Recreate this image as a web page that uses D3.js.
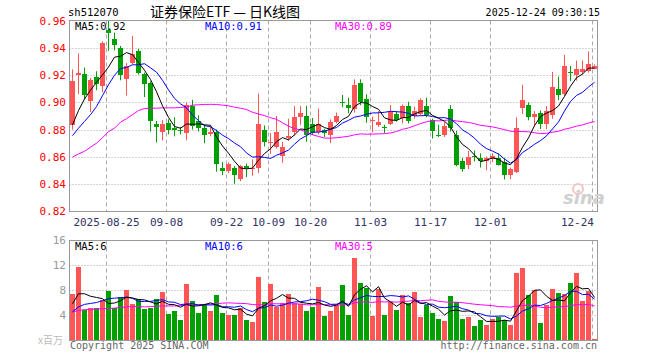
<!DOCTYPE html>
<html><head><meta charset="utf-8">
<script src="https://cdn.jsdelivr.net/npm/d3@7/dist/d3.min.js"></script>
<style>
body{margin:0;background:#fff}
svg{display:block}
text{font-family:"DejaVu Sans Mono",monospace}
</style>
</head><body>
<svg id="c" width="660" height="360"></svg>
<script>
// ---------- data ----------
const dates = ["08-15","08-18","08-19","08-20","08-21","08-22",
"08-25","08-26","08-27","08-28","08-29",
"09-01","09-02","09-03","09-04","09-05",
"09-08","09-09","09-10","09-11","09-12",
"09-15","09-16","09-17","09-18","09-19",
"09-22","09-23","09-24","09-25","09-26",
"09-29","09-30","10-09","10-10",
"10-13","10-14","10-15","10-16","10-17",
"10-20","10-21","10-22","10-23","10-24",
"10-27","10-28","10-29","10-30","10-31",
"11-03","11-04","11-05","11-06","11-07",
"11-10","11-11","11-12","11-13","11-14",
"11-17","11-18","11-19","11-20","11-21",
"11-24","11-25","11-26","11-27","11-28",
"12-01","12-02","12-03","12-04","12-05",
"12-08","12-09","12-10","12-11","12-12",
"12-15","12-16","12-17","12-18","12-19",
"12-22","12-23","12-24"];

const open = [0.8836,0.9205,0.921,0.901,0.9187,0.912,0.9535,0.947,0.940,0.917,
0.929,0.938,0.921,0.914,0.8838,0.878,0.8845,0.881,0.8800,0.8775,
0.8975,0.886,0.8815,0.8765,0.878,0.852,0.8495,0.852,0.8435,0.8528,
0.851,0.8515,0.880,0.870,0.867,0.8605,0.8735,0.878,0.8895,0.890,
0.8838,0.878,0.8797,0.876,0.8853,0.9005,0.898,0.8955,0.914,0.9025,
0.8863,0.8836,0.8816,0.8842,0.8917,0.8885,0.8975,0.890,0.8917,0.8973,
0.887,0.8762,0.8758,0.8955,0.876,0.8565,0.8537,0.8602,0.859,0.8572,
0.8583,0.8593,0.8564,0.8465,0.849,0.8956,0.898,0.889,0.8925,0.8843,
0.891,0.9102,0.906,0.9222,0.920,0.9224,0.9228,0.925];
const high = [0.9244,0.936,0.9257,0.918,0.923,0.945,0.962,0.9514,0.9416,0.929,
0.949,0.9395,0.922,0.9155,0.8863,0.887,0.8875,0.889,0.882,0.900,
0.902,0.8905,0.8835,0.882,0.880,0.856,0.8558,0.853,0.854,0.855,
0.858,0.9065,0.883,0.8775,0.890,0.871,0.888,0.8975,0.8975,0.8975,
0.8885,0.8955,0.8805,0.8875,0.8925,0.9055,0.9035,0.917,0.917,0.906,
0.8895,0.8935,0.8835,0.898,0.8935,0.8985,0.9005,0.897,0.903,0.9035,
0.888,0.8835,0.8855,0.898,0.879,0.859,0.8642,0.8645,0.8625,0.8602,
0.8625,0.8625,0.859,0.852,0.889,0.913,0.900,0.8935,0.894,0.8973,
0.9225,0.919,0.935,0.9268,0.9308,0.9308,0.9375,0.928];
const low = [0.880,0.906,0.9023,0.893,0.909,0.9075,0.938,0.9384,0.9163,0.905,
0.928,0.9205,0.904,0.8785,0.8705,0.872,0.8765,0.875,0.8765,0.872,
0.880,0.8785,0.870,0.875,0.849,0.8465,0.848,0.840,0.842,0.845,
0.846,0.848,0.8675,0.862,0.866,0.8555,0.872,0.8755,0.8835,0.871,
0.876,0.8765,0.8745,0.870,0.8845,0.8965,0.892,0.8925,0.898,0.885,
0.878,0.882,0.8775,0.8833,0.8858,0.8845,0.8845,0.888,0.8905,0.889,
0.8735,0.8745,0.8745,0.8785,0.853,0.849,0.8508,0.8565,0.852,0.850,
0.856,0.8535,0.8432,0.8435,0.848,0.8915,0.8868,0.8825,0.8805,0.8803,
0.888,0.9017,0.9045,0.9158,0.916,0.9205,0.922,0.9245];
const close = [0.916,0.922,0.9055,0.9165,0.9138,0.9435,0.951,0.942,0.920,0.927,
0.936,0.922,0.9135,0.886,0.882,0.884,0.8795,0.8797,0.8797,0.8978,
0.8825,0.8815,0.876,0.878,0.8545,0.8495,0.8548,0.8465,0.853,0.8516,
0.852,0.884,0.871,0.8705,0.878,0.867,0.8755,0.8895,0.892,0.876,
0.8775,0.8843,0.8775,0.8855,0.890,0.900,0.8957,0.913,0.9005,0.889,
0.8868,0.8856,0.8812,0.893,0.8868,0.8972,0.8865,0.894,0.9018,0.891,
0.879,0.8758,0.883,0.8813,0.854,0.8512,0.860,0.8598,0.857,0.859,
0.8602,0.8542,0.8465,0.8507,0.8812,0.902,0.889,0.8915,0.8843,0.8937,
0.9116,0.9058,0.9268,0.9218,0.925,0.925,0.928,0.9268];
// volume, millions
const volume = [7.4,11.7,4.8,5.07,5.07,6.4,7.84,5.2,6.9,8.0,
5.7,6.56,4.96,5.2,6.56,7.68,4.16,4.64,3.2,8.96,
6.24,4.32,5.55,4.64,7.2,4.32,4.0,4.0,5.2,3.2,
2.88,10.1,6.1,8.96,5.33,5.87,7.3,5.87,5.76,4.64,
5.33,8.43,3.84,4.7,5.55,8.8,4.0,13.1,9.1,8.4,
3.84,8.2,4.0,6.1,4.8,7.2,5.87,7.68,3.63,5.6,
4.37,3.36,3.04,7.04,6.13,3.36,3.68,2.24,3.2,2.4,
3.36,3.73,3.2,2.4,10.7,11.5,7.2,8.0,2.72,5.6,
8.16,7.52,7.36,9.12,10.7,6.24,7.84,0.16];

// moving-average values at the start of the window (earlier history not shown)
const ma5Head = [0.8835,0.894,0.9025,0.909];
const ma10Head = [0.8755,0.881,0.886,0.891,0.897,0.905,0.913,0.920,0.925];
const ma30Head = [0.8598,0.862,0.864,0.867,0.870,0.874,0.8785,0.881,0.8855,0.888,
0.891,0.894,0.8955,0.8957,0.8958,0.896,0.896,0.896,0.8963,0.8966,
0.898,0.8983,0.8985,0.8986,0.8985,0.898,0.8975,0.8965,0.8957];
const vma5Head = [5.8,7.4,7.4,7.0];
const vma10Head = [4.5,5.3,5.7,5.85,6.0,6.3,6.6,6.7,6.75];
const vma30Head = [4.5,4.7,4.85,4.9,4.95,5.0,5.05,5.1,5.2,5.3,
5.35,5.35,5.3,5.35,5.4,5.45,5.45,5.45,5.5,5.55,
5.6,5.65,5.7,5.75,5.8,5.9,5.95,5.9,5.85];

const priceTicks = [0.96,0.94,0.92,0.90,0.88,0.86,0.84,0.82];
const volTicks = [16,12,8,4];
const tickDates = ["08-25","09-08","09-22","10-09","10-20","11-03","11-17","12-01","12-24"];
const tickLabels = ["2025-08-25","09-08","09-22","10-09","10-20","11-03","11-17","12-01","12-24"];
const priceLegend = ["MA5:0.92","MA10:0.91","MA30:0.89"];
const volLegend = ["MA5:6","MA10:6","MA30:5"];
const maColors = ["#000000","#0000ff","#ff00ff"];

// ---------- drawing ----------
const RED = "#ff5555", GREEN = "#00a000", GRID = "#aaaaaa", FRAME = "#999999";
const svg = d3.select("#c");
const L = 69.5, R = 597.5, PT = 20.5, PB = 211.5, VT = 240.5, VB = 340.5;

const x = d3.scaleBand().domain(dates).range([69.5, 597.5]).paddingInner(1/6).paddingOuter(1/12);
const yP = d3.scaleLinear().domain([0.82, 0.96]).range([211, 21]);
const yV = d3.scaleLinear().domain([0, 16]).range([340, 240]);
const cx = d => x(d) + 2.5;
const snap = v => Math.round(v) + 0.5;

function ma(arr, n, head) {
  return arr.map((d, i) => i < n - 1 ? head[i] : d3.mean(arr.slice(i - n + 1, i + 1)));
}

const defs = svg.append("defs");
defs.append("clipPath").attr("id","cp").append("rect").attr("x",L).attr("y",PT).attr("width",R-L).attr("height",PB-PT);
defs.append("clipPath").attr("id","cv").append("rect").attr("x",L).attr("y",VT).attr("width",R-L).attr("height",VB-VT);

// header
svg.append("text").attr("x",68).attr("y",16).attr("font-size",10.5).attr("fill","#000").text("sh512070");
svg.append("text").attr("x",225).attr("y",17).attr("text-anchor","middle").attr("font-size",14)
  .style("font-family","'Noto Sans CJK SC',sans-serif").attr("fill","#000").text("证券保险ETF — 日K线图");
svg.append("text").attr("x",600).attr("y",16).attr("text-anchor","end").attr("font-size",10).attr("fill","#000").text("2025-12-24 09:30:15");

// grids
const gp = svg.append("g");
gp.selectAll("line.h").data(priceTicks.slice(1, -1)).join("line")
  .attr("x1",L).attr("x2",R).attr("y1",d=>snap(yP(d))).attr("y2",d=>snap(yP(d)))
  .attr("stroke",GRID).attr("stroke-dasharray","1,2");
gp.selectAll("line.hv").data(volTicks.slice(1)).join("line")
  .attr("x1",L).attr("x2",R).attr("y1",d=>snap(yV(d))).attr("y2",d=>snap(yV(d)))
  .attr("stroke",GRID).attr("stroke-dasharray","1,2");
tickDates.forEach(d => {
  const xx = Math.round(x(d)) + 0.5;
  [[PT, PB],[VT, VB]].forEach(([a,b]) => {
    svg.append("line").attr("x1",xx).attr("x2",xx).attr("y1",a).attr("y2",b)
      .attr("stroke",GRID).attr("stroke-dasharray","4,3");
  });
});

// price axis labels
svg.append("g").selectAll("text").data(priceTicks).join("text")
  .attr("x",66).attr("y",d=>yP(d)+4).attr("text-anchor","end").attr("font-size",11).attr("fill","#ff0000")
  .text(d=>d.toFixed(2));
// volume axis labels
svg.append("g").selectAll("text").data(volTicks).join("text")
  .attr("x",66).attr("y",d=>yV(d)+4).attr("text-anchor","end").attr("font-size",11).attr("fill","#999")
  .text(d=>d);
svg.append("text").attr("x",38).attr("y",344).attr("font-size",10).attr("fill","#bbb")
  .style("font-family","'Noto Sans CJK SC',sans-serif").text("x百万");
// date labels
svg.append("g").selectAll("text").data(tickDates).join("text")
  .attr("x",(d,i)=> i === tickDates.length-1 ? x(d)+2 : x(d)+0.5)
  .attr("y",226).attr("text-anchor",(d,i)=> i === tickDates.length-1 ? "end" : "middle")
  .attr("font-size",11).attr("fill","#333366").text((d,i)=>tickLabels[i]);

// candles
const idx = d3.range(dates.length);
const colorOf = i => close[i] >= open[i] ? RED : GREEN;
const cg = svg.append("g").attr("clip-path","url(#cp)");
cg.selectAll("line").data(idx).join("line")
  .attr("x1",i=>cx(dates[i])).attr("x2",i=>cx(dates[i]))
  .attr("y1",i=>yP(high[i])).attr("y2",i=>yP(low[i]))
  .attr("stroke",colorOf).attr("stroke-width",1);
cg.selectAll("rect").data(idx).join("rect")
  .attr("x",i=>x(dates[i])).attr("width",x.bandwidth())
  .attr("y",i=>yP(Math.max(open[i],close[i])))
  .attr("height",i=>Math.max(1, Math.abs(yP(open[i])-yP(close[i]))))
  .attr("fill",colorOf).attr("shape-rendering","crispEdges");

// volume bars
const vg = svg.append("g").attr("clip-path","url(#cv)");
vg.selectAll("rect").data(idx).join("rect")
  .attr("x",i=>x(dates[i])).attr("width",x.bandwidth())
  .attr("y",i=>yV(volume[i])).attr("height",i=>yV(0)-yV(volume[i]))
  .attr("fill",colorOf).attr("shape-rendering","crispEdges");

// MA lines
const pMAs = [ma(close,5,ma5Head), ma(close,10,ma10Head), ma(close,30,ma30Head)];
const vMAs = [ma(volume,5,vma5Head), ma(volume,10,vma10Head), ma(volume,30,vma30Head)];
const lineP = d3.line().x((d,i)=>cx(dates[i])).y(d=>yP(d));
const lineV = d3.line().x((d,i)=>cx(dates[i])).y(d=>yV(d));
[2,1,0].forEach(k => {
  cg.append("path").attr("d",lineP(pMAs[k])).attr("fill","none").attr("stroke",maColors[k]).attr("stroke-width",1);
  vg.append("path").attr("d",lineV(vMAs[k])).attr("fill","none").attr("stroke",maColors[k]).attr("stroke-width",1);
});

// frames
svg.append("rect").attr("x",L).attr("y",PT).attr("width",R-L).attr("height",PB-PT).attr("fill","none").attr("stroke",FRAME);
svg.append("rect").attr("x",L).attr("y",VT).attr("width",R-L).attr("height",VB-VT).attr("fill","none").attr("stroke",FRAME);

// legends
const legX = [75, 205, 335];
priceLegend.forEach((t,k)=> svg.append("text").attr("x",legX[k]).attr("y",30).attr("font-size",10.5).attr("fill",maColors[k]).text(t));
volLegend.forEach((t,k)=> svg.append("text").attr("x",legX[k]).attr("y",250).attr("font-size",10.5).attr("fill",maColors[k]).text(t));

// watermark
svg.append("circle").attr("cx",578).attr("cy",189).attr("r",5).attr("fill","none").attr("stroke","#f2c4c4").attr("stroke-width",2);
svg.append("text").attr("x",563).attr("y",204).attr("font-size",18).attr("font-style","italic").attr("font-weight","bold")
  .style("font-family","'DejaVu Sans',sans-serif").attr("fill","#d0d0d0").text("sina");

// footer
svg.append("text").attr("x",70).attr("y",349).attr("font-size",10).attr("fill","#666").text("Copyright 2025 SINA.COM");
svg.append("text").attr("x",597).attr("y",349).attr("text-anchor","end").attr("font-size",10).attr("fill","#666").text("http://finance.sina.com.cn");
</script>
</body></html>
